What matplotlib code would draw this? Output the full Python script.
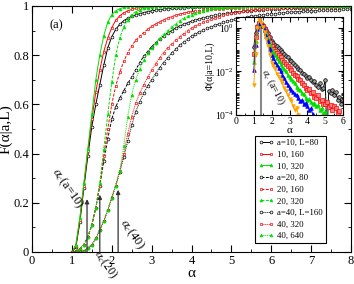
import numpy as np
import matplotlib
matplotlib.use('Agg')
import matplotlib.pyplot as plt
from matplotlib.ticker import MultipleLocator, LogLocator, FixedLocator, NullFormatter

plt.rcParams['font.family'] = ['Liberation Serif', 'DejaVu Serif']
plt.rcParams['mathtext.fontset'] = 'stix'

#---------- DATA --------------------------------------------------------------
# main panel: cumulative F(alpha|a,L), alpha sampled every 0.1 from 1 to 8
alpha = np.round(np.arange(1.0, 8.05, 0.1), 1)

F_a10_L80 = [0.0, 0.02, 0.12, 0.26, 0.39, 0.51, 0.60, 0.68, 0.76, 0.83,
             0.875, 0.905, 0.925, 0.94, 0.95, 0.958, 0.964, 0.969, 0.973, 0.977,
             0.98, 0.983, 0.985, 0.987, 0.989, 0.99, 0.991, 0.992, 0.993, 0.994,
             0.995, 0.995, 0.996, 0.996, 0.997, 0.997, 0.997, 0.998, 0.998, 0.998,
             0.998, 0.999, 0.999, 0.999, 0.999, 0.999, 0.999, 0.999, 0.999, 0.999,
             0.999, 0.999, 0.999, 1.0, 1.0, 1.0, 1.0, 1.0, 1.0, 1.0,
             1.0, 1.0, 1.0, 1.0, 1.0, 1.0, 1.0, 1.0, 1.0, 1.0, 1.0]
F_a10_L160 = [0.0, 0.025, 0.13, 0.27, 0.41, 0.54, 0.65, 0.74, 0.815, 0.87,
              0.912, 0.942, 0.96, 0.972, 0.98, 0.986, 0.99, 0.993, 0.995, 0.996,
              0.997, 0.998, 0.998, 0.999, 0.999, 0.999, 1.0, 1.0, 1.0, 1.0,
              1.0, 1.0, 1.0, 1.0, 1.0, 1.0, 1.0, 1.0, 1.0, 1.0,
              1.0, 1.0, 1.0, 1.0, 1.0, 1.0, 1.0, 1.0, 1.0, 1.0,
              1.0, 1.0, 1.0, 1.0, 1.0, 1.0, 1.0, 1.0, 1.0, 1.0,
              1.0, 1.0, 1.0, 1.0, 1.0, 1.0, 1.0, 1.0, 1.0, 1.0, 1.0]
F_a10_L320 = [0.0, 0.03, 0.14, 0.28, 0.42, 0.56, 0.70, 0.80, 0.88, 0.935,
              0.965, 0.98, 0.989, 0.994, 0.997, 0.998, 0.999, 1.0, 1.0, 1.0,
              1.0, 1.0, 1.0, 1.0, 1.0, 1.0, 1.0, 1.0, 1.0, 1.0,
              1.0, 1.0, 1.0, 1.0, 1.0, 1.0, 1.0, 1.0, 1.0, 1.0,
              1.0, 1.0, 1.0, 1.0, 1.0, 1.0, 1.0, 1.0, 1.0, 1.0,
              1.0, 1.0, 1.0, 1.0, 1.0, 1.0, 1.0, 1.0, 1.0, 1.0,
              1.0, 1.0, 1.0, 1.0, 1.0, 1.0, 1.0, 1.0, 1.0, 1.0, 1.0]
F_a20_L80 = [0.0, 0.003, 0.012, 0.03, 0.06, 0.11, 0.18, 0.27, 0.37, 0.46,
             0.54, 0.59, 0.625, 0.655, 0.685, 0.71, 0.74, 0.77, 0.795, 0.815,
             0.835, 0.85, 0.865, 0.878, 0.89, 0.90, 0.91, 0.918, 0.925, 0.932,
             0.938, 0.943, 0.948, 0.952, 0.956, 0.96, 0.963, 0.966, 0.968, 0.971,
             0.973, 0.975, 0.977, 0.978, 0.98, 0.981, 0.982, 0.984, 0.985, 0.986,
             0.987, 0.988, 0.989, 0.99, 0.99, 0.991, 0.992, 0.992, 0.993, 0.993,
             0.994, 0.994, 0.995, 0.995, 0.995, 0.996, 0.996, 0.996, 0.997, 0.997, 0.997]
F_a20_L160 = [0.0, 0.003, 0.012, 0.03, 0.06, 0.11, 0.18, 0.27, 0.39, 0.50,
              0.60, 0.675, 0.73, 0.775, 0.81, 0.838, 0.86, 0.877, 0.892, 0.905,
              0.917, 0.927, 0.936, 0.944, 0.951, 0.957, 0.962, 0.966, 0.97, 0.974,
              0.977, 0.979, 0.981, 0.983, 0.985, 0.986, 0.987, 0.988, 0.989, 0.99,
              0.991, 0.991, 0.992, 0.992, 0.993, 0.993, 0.994, 0.994, 0.995, 0.995,
              0.995, 0.996, 0.996, 0.996, 0.997, 0.997, 0.997, 0.997, 0.998, 0.998,
              0.998, 0.998, 0.998, 0.998, 0.998, 0.999, 0.999, 0.999, 0.999, 0.999, 0.999]
F_a20_L320 = [0.0, 0.003, 0.012, 0.03, 0.06, 0.11, 0.18, 0.28, 0.42, 0.56,
              0.69, 0.80, 0.87, 0.915, 0.945, 0.965, 0.977, 0.985, 0.99, 0.993,
              0.995, 0.997, 0.998, 0.998, 0.999, 0.999, 1.0, 1.0, 1.0, 1.0,
              1.0, 1.0, 1.0, 1.0, 1.0, 1.0, 1.0, 1.0, 1.0, 1.0,
              1.0, 1.0, 1.0, 1.0, 1.0, 1.0, 1.0, 1.0, 1.0, 1.0,
              1.0, 1.0, 1.0, 1.0, 1.0, 1.0, 1.0, 1.0, 1.0, 1.0,
              1.0, 1.0, 1.0, 1.0, 1.0, 1.0, 1.0, 1.0, 1.0, 1.0, 1.0]
F_a40_L160 = [0.0, 0.0, 0.002, 0.005, 0.015, 0.03, 0.055, 0.09, 0.125, 0.17,
              0.22, 0.27, 0.325, 0.385, 0.45, 0.515, 0.57, 0.61, 0.645, 0.675,
              0.70, 0.725, 0.75, 0.77, 0.79, 0.808, 0.825, 0.84, 0.853, 0.866,
              0.877, 0.886, 0.895, 0.903, 0.91, 0.916, 0.922, 0.928, 0.933, 0.938,
              0.942, 0.946, 0.949, 0.952, 0.955, 0.958, 0.96, 0.962, 0.964, 0.966,
              0.968, 0.969, 0.971, 0.972, 0.974, 0.975, 0.976, 0.977, 0.978, 0.979,
              0.98, 0.981, 0.982, 0.982, 0.983, 0.984, 0.985, 0.985, 0.986, 0.986, 0.987]
F_a40_L320 = [0.0, 0.0, 0.002, 0.005, 0.015, 0.03, 0.055, 0.09, 0.125, 0.17,
              0.22, 0.27, 0.33, 0.40, 0.48, 0.55, 0.605, 0.645, 0.68, 0.71,
              0.74, 0.765, 0.79, 0.81, 0.83, 0.845, 0.86, 0.875, 0.888, 0.90,
              0.91, 0.919, 0.927, 0.934, 0.94, 0.946, 0.952, 0.957, 0.962, 0.966,
              0.97, 0.973, 0.976, 0.978, 0.98, 0.982, 0.984, 0.986, 0.987, 0.988,
              0.99, 0.99, 0.991, 0.992, 0.992, 0.993, 0.994, 0.994, 0.994, 0.995,
              0.995, 0.996, 0.996, 0.996, 0.997, 0.997, 0.997, 0.997, 0.998, 0.998, 0.998]
F_a40_L640 = [0.0, 0.0, 0.002, 0.005, 0.015, 0.03, 0.055, 0.09, 0.125, 0.17,
              0.22, 0.27, 0.33, 0.43, 0.55, 0.64, 0.70, 0.745, 0.78, 0.81,
              0.83, 0.85, 0.87, 0.885, 0.90, 0.915, 0.928, 0.94, 0.95, 0.958,
              0.965, 0.971, 0.976, 0.98, 0.984, 0.987, 0.99, 0.992, 0.993, 0.994,
              0.995, 0.996, 0.997, 0.997, 0.998, 0.998, 0.999, 0.999, 0.999, 0.999,
              1.0, 1.0, 1.0, 1.0, 1.0, 1.0, 1.0, 1.0, 1.0, 1.0,
              1.0, 1.0, 1.0, 1.0, 1.0, 1.0, 1.0, 1.0, 1.0, 1.0, 1.0]

labels = ['a=10, L=80', '10, 160', '10, 320',
          'a=20, 80', '20, 160', '20, 320',
          'a=40, L=160', '40, 320', '40, 640']

# critical alphas marked by arrows (alpha, arrow top)
alpha_c = [1.38, 1.70, 2.16]
alpha_c_top = [0.215, 0.233, 0.253]

# inset: log10 Phi(alpha|a=10,L), alpha sampled every 0.1 from 1.0
logPhi_L80 = [-0.86, -0.25, 0.08, 0.22, 0.2, 0.12, 0.02, -0.1, -0.25, -0.42,
              -0.6, -0.68, -0.77, -0.85, -0.93, -1.0, -1.1, -1.18, -1.27, -1.35,
              -1.45, -1.52, -1.62, -1.7, -1.8, -1.88, -1.95, -2.05, -2.1, -2.2,
              -2.3, -2.25, -2.4, -2.5, -2.45, -2.6, -2.7, -2.55, -2.8, -2.75,
              -2.4, -5.0, -2.9, -3.0, -2.85, -3.1, -2.95, -3.3, -3.15, -3.5, -3.3]
logPhi_L160 = [-1.2, -0.4, 0.05, 0.23, 0.2, 0.1, -0.05, -0.22, -0.42, -0.63,
               -0.85, -0.95, -1.05, -1.15, -1.25, -1.35, -1.45, -1.55, -1.66, -1.75,
               -1.86, -1.95, -2.05, -2.15, -2.2, -2.35, -2.4, -2.55, -2.6, -2.75,
               -2.85, -2.8, -3.0, -2.95, -3.15, -3.2, -3.1, -3.35, -3.3, -3.5,
               -3.5, -3.4, -3.65, -3.55, -3.75, -3.6, -3.7, -3.9, -3.8, -4.3]
logPhi_L320 = [-1.55, -0.6, 0.0, 0.24, 0.2, 0.08, -0.08, -0.28, -0.5, -0.75,
               -1.0, -1.12, -1.25, -1.4, -1.52, -1.65, -1.78, -1.9, -2.0, -2.15,
               -2.25, -2.35, -2.45, -2.55, -2.7, -2.8, -2.85, -3.0, -3.05, -3.2,
               -3.3, -3.25, -3.4, -3.5, -3.45, -3.6, -3.55, -3.75, -3.7, -3.9,
               -3.85, -4.2]
logPhi_L640 = [-1.93, -0.8, -0.05, 0.25, 0.22, 0.08, -0.1, -0.35, -0.6, -0.95,
               -1.25, -1.4, -1.55, -1.7, -1.85, -2.0, -2.15, -2.3, -2.5, -2.6,
               -2.78, -2.85, -2.95, -3.05, -3.1, -3.2, -3.35, -3.3, -3.5, -3.45,
               -3.6, -3.75, -3.7, -3.95, -4.3]
logPhi_L1280 = [-2.62, -1.2, 0.0, 0.37, 0.25, 0.05, -0.2, -0.5, -0.85, -1.25,
                -1.6, -1.75, -1.9, -2.1, -2.25, -2.4, -2.55, -2.75, -2.9, -3.1,
                -3.25, -3.35, -3.6, -3.75, -3.7, -4.0, -4.2]
alpha_c_inset = 1.42
#------------------------------------------------------------------------------

fig = plt.figure(figsize=(3.54, 2.84), dpi=100)
ax = fig.add_axes([32/354, 32/284, 319/354, 246/284])

series = [F_a10_L80, F_a10_L160, F_a10_L320,
          F_a20_L80, F_a20_L160, F_a20_L320,
          F_a40_L160, F_a40_L320, F_a40_L640]
colors = ['black', '#ff0000', '#00e000']
markers = ['o', 's', '^']
lstyles = ['-', (0, (3, 1.5)), (0, (1, 1))]

for k, F in enumerate(series):
    c = colors[k % 3]
    m = markers[k % 3]
    mfc = c if m == '^' else 'white'
    ax.plot(alpha, F, color=c, ls=lstyles[k // 3], lw=0.7,
            marker=m, ms=2.0, mfc=mfc, mec=c, mew=0.5, label=labels[k])

ax.set_xlim(0, 8)
ax.set_ylim(0, 1)
ax.xaxis.set_major_locator(MultipleLocator(1))
ax.xaxis.set_minor_locator(MultipleLocator(0.5))
ax.yaxis.set_major_locator(MultipleLocator(0.2))
ax.yaxis.set_minor_locator(MultipleLocator(0.1))
ax.set_yticklabels(['%g' % v for v in ax.get_yticks()])
ax.tick_params(which='both', direction='in', top=True, right=True, labelsize=9, pad=2)
ax.tick_params(which='major', length=5)
ax.tick_params(which='minor', length=2.5)
ax.set_xlabel('α', fontsize=11, labelpad=0)
ax.set_ylabel('F(α|a,L)', fontsize=11, labelpad=1)
ax.text(0.45, 0.91, '(a)', fontsize=9)

for ac, top in zip(alpha_c, alpha_c_top):
    ax.annotate('', xy=(ac, top), xytext=(ac, 0),
                arrowprops=dict(arrowstyle='-|>', color='#333333', lw=0.9,
                                mutation_scale=6, shrinkA=0, shrinkB=0))
ax.text(0.9, 0.26, r'$\alpha_c$(a=10)', fontsize=9, rotation=-55,
        ha='center', va='center', rotation_mode='anchor')
ax.text(1.85, -0.052, r'$\alpha_c$(20)', fontsize=8.5, rotation=-55,
        ha='center', va='center', rotation_mode='anchor', clip_on=False)
ax.text(2.5, 0.07, r'$\alpha_c$(40)', fontsize=9, rotation=-55,
        ha='center', va='center', rotation_mode='anchor')

leg = ax.legend(loc='upper left', bbox_to_anchor=(0.699, 0.4715), borderaxespad=0,
                fontsize=6.3, numpoints=2, handlelength=1.8, handletextpad=0.35,
                labelspacing=0.40, borderpad=0.35, fancybox=False, framealpha=1,
                edgecolor='black')
leg.get_frame().set_linewidth(0.8)

# inset
ins = fig.add_axes([236/354, 1 - 115/284, 107/354, 98/284])
inset_sets = [logPhi_L80, logPhi_L160, logPhi_L320, logPhi_L640, logPhi_L1280]
in_colors = ['black', '#ff0000', '#00e000', '#0000ff', '#ffa500']
in_mfc = ['#999999', '#ff8080', '#00e000', '#0000ff', '#ffa500']
in_markers = ['o', 's', '^', '^', 'v']
ins.axvline(alpha_c_inset, color='#888888', lw=1.5, zorder=1)
for lp, c, fc, m in zip(inset_sets, in_colors, in_mfc, in_markers):
    a_in = alpha[:len(lp)]
    ins.plot(a_in, 10 ** np.array(lp), color=c, lw=0.7, marker=m, ms=2.6,
             mfc=fc, mec=c, mew=0.5)
ins.set_yscale('log')
ins.set_xlim(0, 6)
ins.set_ylim(1e-4, 3.2)
ins.xaxis.set_major_locator(MultipleLocator(1))
ins.xaxis.set_minor_locator(MultipleLocator(0.5))
ins.yaxis.set_major_locator(FixedLocator([1e-4, 1e-2, 1e0]))
ins.yaxis.set_minor_locator(LogLocator(base=10, subs=np.arange(1, 10), numticks=20))
ins.yaxis.set_minor_formatter(NullFormatter())
ins.tick_params(which='both', direction='in', top=True, right=True, labelsize=7, pad=1.5)
ins.tick_params(which='major', length=3.5)
ins.tick_params(which='minor', length=1.8)
ins.set_xlabel('α', fontsize=8, labelpad=0)
ins.set_ylabel('Φ(α|a=10,L)', fontsize=7, labelpad=0)
ins.text(2.07, 1.9e-3, r'$\alpha_c$ (a=10)', fontsize=7, rotation=-62,
         ha='center', va='center', rotation_mode='anchor')

fig.savefig('out.png', dpi=100)
